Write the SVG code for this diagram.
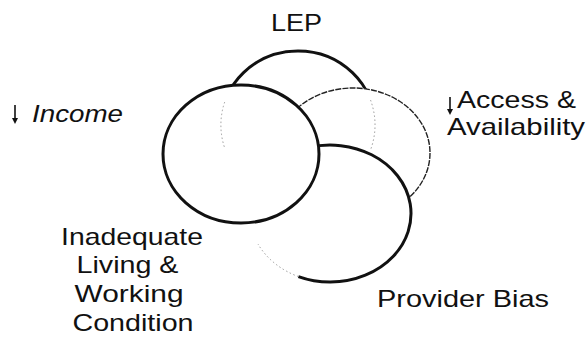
<svg xmlns="http://www.w3.org/2000/svg" width="588" height="341" viewBox="0 0 588 341">
  <style>
    .lbl { font-family: "Liberation Sans", Arial, sans-serif; font-size: 24px; fill: #111; }
    .it { font-style: italic; }
    .ring { fill: #fff; stroke: #111; stroke-width: 3; }
    .thin { fill: #fff; stroke: #222; stroke-width: 1.4; stroke-dasharray: 6 1.2; }
    .faint { fill: none; stroke: #9a9a9a; stroke-width: 1; stroke-dasharray: 1.5 2.5; }
    .down { stroke: #111; stroke-width: 1.6; fill: none; }
    .tip { fill: #111; }
  </style>
  <rect width="588" height="341" fill="#fff"/>

  <!-- back circle: LEP -->
  <g id="node-lep">
    <ellipse class="ring" cx="298" cy="125" rx="77" ry="74" stroke-width="2.6"/>
    <text class="lbl" x="271" y="31" textLength="51" lengthAdjust="spacingAndGlyphs">LEP</text>
  </g>

  <!-- right circle: access and availability -->
  <g id="node-access">
    <ellipse class="thin" cx="353" cy="153" rx="77" ry="65"/>
    <path class="down" d="M450 97 V109"/>
    <path class="tip" d="M447 109 L453 109 L450 115 Z"/>
    <text class="lbl" x="457" y="108" textLength="119" lengthAdjust="spacingAndGlyphs">Access &amp;</text>
    <text class="lbl" x="447" y="135" textLength="138" lengthAdjust="spacingAndGlyphs">Availability</text>
  </g>

  <!-- lower circle: provider bias -->
  <g id="node-provider">
    <ellipse cx="330" cy="213.5" rx="81" ry="68.5" fill="#fff"/>
    <path d="M249 213.5 A81 68.5 0 1 1 298.4 276.6" fill="none" stroke="#111" stroke-width="3"/>
    <path class="faint" d="M298.4 276.6 A81 68.5 0 0 1 258 244"/>
    <text class="lbl" x="377" y="307" textLength="172" lengthAdjust="spacingAndGlyphs">Provider Bias</text>
  </g>

  <!-- front circle: income -->
  <g id="node-income">
    <ellipse class="ring" cx="241" cy="154" rx="78" ry="69"/>
    <path class="down" d="M15 105 V118"/>
    <path class="tip" d="M12 118 L18 118 L15 124 Z"/>
    <text class="lbl it" x="32" y="122" textLength="91" lengthAdjust="spacingAndGlyphs">Income</text>
  </g>

  <!-- hidden edges of the LEP circle seen through the front circles -->
  <g id="hidden-edges">
    <path class="faint" d="M224.7 102 A77 74 0 0 0 224.7 148"/>
    <path class="faint" d="M370.5 100 A77 74 0 0 1 370.5 150"/>
  </g>

  <!-- label for living and working conditions -->
  <g id="node-living">
    <text class="lbl" x="132" y="245" text-anchor="middle" textLength="142" lengthAdjust="spacingAndGlyphs">Inadequate</text>
    <text class="lbl" x="127.5" y="273" text-anchor="middle" textLength="102" lengthAdjust="spacingAndGlyphs">Living &amp;</text>
    <text class="lbl" x="129" y="302" text-anchor="middle" textLength="109" lengthAdjust="spacingAndGlyphs">Working</text>
    <text class="lbl" x="133" y="331" text-anchor="middle" textLength="121" lengthAdjust="spacingAndGlyphs">Condition</text>
  </g>
</svg>
